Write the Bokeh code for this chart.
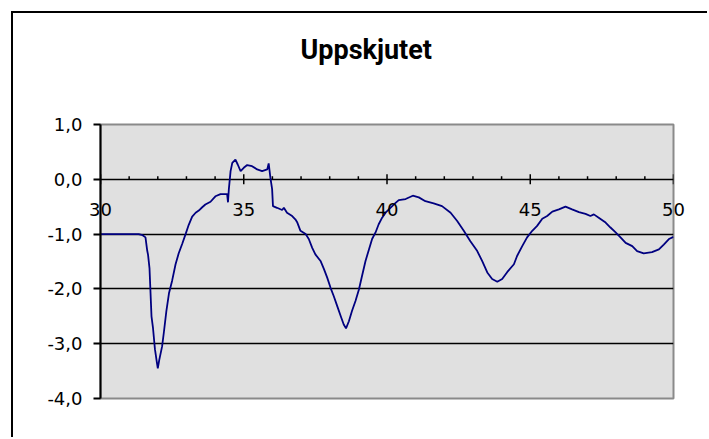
from bokeh.plotting import figure
from bokeh.models import Range1d, FixedTicker, Title
from bokeh.embed import file_html
from bokeh.resources import INLINE

title_text = "Uppskjutet"

x_vals = [30.0, 31.33, 31.47, 31.57, 31.63, 31.66, 31.71, 31.78, 31.83, 31.90, 31.97, 32.0,
          32.05, 32.15, 32.21, 32.3, 32.39, 32.5, 32.62, 32.73, 32.85, 32.97, 33.08, 33.2,
          33.32, 33.43, 33.55, 33.66, 33.84, 34.01, 34.19, 34.42, 34.45, 34.48, 34.54, 34.6,
          34.71, 34.79, 34.89, 35.0, 35.12, 35.29, 35.47, 35.64, 35.82, 35.87, 35.93, 35.99,
          36.02, 36.16, 36.34, 36.4, 36.51, 36.69, 36.8, 36.87, 36.98, 37.16, 37.27, 37.39,
          37.5, 37.68, 37.8, 37.91, 38.03, 38.14, 38.26, 38.38, 38.49, 38.57, 38.67, 38.78,
          38.9, 39.02, 39.13, 39.25, 39.37, 39.48, 39.6, 39.71, 39.83, 39.95, 40.12, 40.3,
          40.41, 40.65, 40.9, 41.11, 41.34, 41.63, 41.92, 42.22, 42.45, 42.68, 42.91, 43.15,
          43.32, 43.5, 43.67, 43.85, 44.02, 44.2, 44.43, 44.54, 44.72, 44.89, 45.07, 45.24,
          45.42, 45.59, 45.77, 46.0, 46.23, 46.46, 46.7, 46.93, 47.1, 47.22, 47.39, 47.63,
          47.8, 47.98, 48.15, 48.33, 48.56, 48.73, 48.96, 49.25, 49.49, 49.66, 49.84, 50.0]

y_vals = [-1.0, -1.0, -1.02, -1.06, -1.3, -1.38, -1.62, -2.5, -2.7, -3.1, -3.35, -3.45,
          -3.3, -3.05, -2.8, -2.4, -2.08, -1.85, -1.55, -1.35, -1.18, -1.0, -0.83, -0.68,
          -0.61, -0.57, -0.51, -0.46, -0.41, -0.31, -0.27, -0.27, -0.42, -0.18, 0.15, 0.30,
          0.36, 0.27, 0.15, 0.21, 0.26, 0.24, 0.18, 0.15, 0.18, 0.29, 0.03, -0.18,
          -0.49, -0.52, -0.56, -0.52, -0.61, -0.67, -0.73, -0.79, -0.94, -1.0, -1.09, -1.25,
          -1.37, -1.49, -1.64, -1.79, -1.98, -2.13, -2.31, -2.49, -2.65, -2.72, -2.59, -2.40,
          -2.22, -2.01, -1.76, -1.49, -1.28, -1.09, -0.97, -0.82, -0.70, -0.61, -0.52, -0.43,
          -0.38, -0.36, -0.30, -0.33, -0.40, -0.44, -0.49, -0.61, -0.76, -0.94, -1.13, -1.31,
          -1.49, -1.70, -1.82, -1.87, -1.82, -1.69, -1.55, -1.40, -1.22, -1.06, -0.94, -0.85,
          -0.72, -0.67, -0.59, -0.55, -0.50, -0.55, -0.60, -0.63, -0.67, -0.64, -0.70, -0.79,
          -0.88, -0.97, -1.06, -1.16, -1.22, -1.31, -1.35, -1.33, -1.28, -1.19, -1.09, -1.05]

x_major_ticks = [30, 35, 40, 45, 50]
x_tick_labels = ["30", "35", "40", "45", "50"]
x_minor_ticks = [31, 32, 33, 34, 36, 37, 38, 39, 41, 42, 43, 44, 46, 47, 48, 49]
y_ticks = [-4, -3, -2, -1, 0, 1]
y_tick_labels = ["-4,0", "-3,0", "-2,0", "-1,0", "0,0", "1,0"]
y_grid_ticks = [-3, -2, -1, 0]

Y0, Y1 = -4, 1
FRAME_H = 274

p = figure(width=696, height=426, output_backend="svg", toolbar_location=None,
           x_range=Range1d(30, 50), y_range=Range1d(Y0, Y1),
           min_border_left=87, min_border_right=36, min_border_top=111, min_border_bottom=41,
           background_fill_color="#E0E0E0", border_fill_color="white")
p.margin = (11, 0, 0, 11)
p.styles = {"border-top": "2px solid black", "border-left": "2px solid black"}

p.outline_line_color = "#8a8a8a"
p.outline_line_width = 2

# title (an empty spacer title sits between it and the plot area)
p.title.text = title_text
p.title.align = "left"
p.title.offset = 200
p.title.vertical_align = "top"
p.title.standoff = 0
p.title.text_font = "Roboto"
p.title.text_font_style = "bold"
p.title.text_font_size = "27px"
p.title.text_color = "black"
p.add_layout(Title(text=" ", text_font_size="1px", standoff=54), "above")

# bottom axis used only for its labels, pulled up under the y = 0 line
xa = p.xaxis[0]
xa.ticker = FixedTicker(ticks=x_major_ticks, minor_ticks=[])
xa.major_label_overrides = {t: s for t, s in zip(x_major_ticks, x_tick_labels)}
xa.axis_line_color = None
xa.major_tick_line_color = None
xa.minor_tick_line_color = None
xa.major_tick_in = 0
xa.major_tick_out = 0
xa.minor_tick_in = 0
xa.minor_tick_out = 0
xa.major_label_standoff = -196
xa.major_label_text_font = "DejaVu Sans"
xa.major_label_text_font_size = "18px"
xa.major_label_text_color = "black"

# y axis
ya = p.yaxis[0]
ya.ticker = FixedTicker(ticks=y_ticks, minor_ticks=[])
ya.major_label_overrides = {t: s for t, s in zip(y_ticks, y_tick_labels)}
ya.axis_line_color = "black"
ya.axis_line_width = 2
ya.major_tick_in = 0
ya.major_tick_out = 7
ya.major_tick_line_color = "black"
ya.major_tick_line_width = 2
ya.major_label_text_font = "DejaVu Sans"
ya.major_label_text_font_size = "18px"
ya.major_label_text_color = "black"
ya.major_label_standoff = 11

p.xgrid.visible = False
p.ygrid.ticker = FixedTicker(ticks=y_grid_ticks, minor_ticks=[])
p.ygrid.grid_line_color = "black"
p.ygrid.grid_line_width = 1.5

# tick marks on the y = 0 line (lengths in pixels converted to data units)
unit = (Y1 - Y0) / FRAME_H
p.segment(x0=x_major_ticks, y0=[-5 * unit] * len(x_major_ticks),
          x1=x_major_ticks, y1=[5 * unit] * len(x_major_ticks),
          line_color="black", line_width=1.5)
p.segment(x0=x_minor_ticks, y0=[0] * len(x_minor_ticks),
          x1=x_minor_ticks, y1=[3 * unit] * len(x_minor_ticks),
          line_color="black", line_width=1.5)

p.line(x_vals, y_vals, line_color="#000080", line_width=1.8)

open("out.html", "w").write(file_html(p, INLINE))
